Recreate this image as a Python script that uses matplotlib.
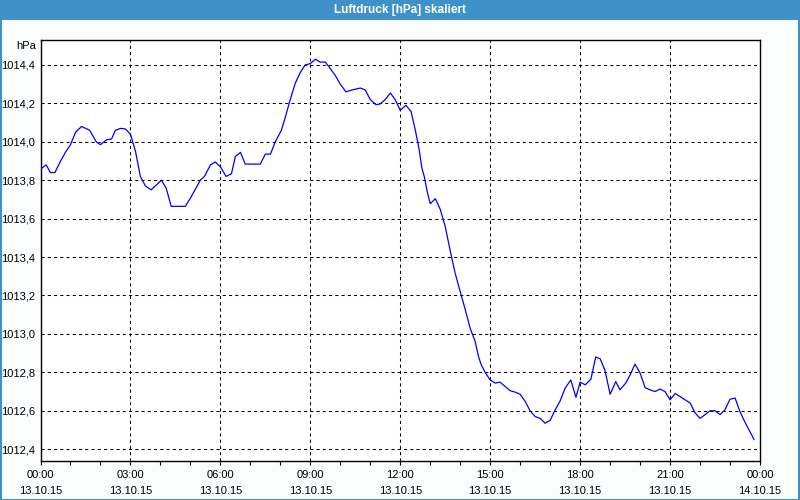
import matplotlib.pyplot as plt
from matplotlib.patches import Rectangle
from matplotlib.ticker import MultipleLocator, FixedLocator

# Luftdruck 13.10.15, Stunden seit Mitternacht
hours = [0.02, 0.19, 0.33, 0.48, 0.67, 0.83, 1.0, 1.17, 1.37, 1.64, 1.86, 2.0, 2.2, 2.37,
         2.5, 2.67, 2.83, 3.0, 3.17, 3.33, 3.5, 3.69, 3.87, 4.03, 4.19, 4.36, 4.83, 5.0,
         5.17, 5.33, 5.47, 5.67, 5.83, 6.0, 6.19, 6.37, 6.5, 6.67, 6.83, 7.33, 7.5, 7.67,
         7.83, 8.03, 8.17, 8.33, 8.5, 8.67, 8.83, 9.0, 9.17, 9.33, 9.5, 9.67, 9.83, 10.0,
         10.19, 10.39, 10.67, 10.83, 11.0, 11.19, 11.33, 11.5, 11.67, 11.83, 12.0, 12.19,
         12.36, 12.5, 12.63, 12.72, 12.8, 12.91, 13.0, 13.17, 13.33, 13.5, 13.67, 13.83,
         14.0, 14.17, 14.33, 14.5, 14.61, 14.7, 14.83, 15.0, 15.17, 15.33, 15.5, 15.67,
         15.83, 16.0, 16.17, 16.33, 16.5, 16.67, 16.83, 17.0, 17.17, 17.33, 17.5, 17.69,
         17.86, 18.0, 18.17, 18.36, 18.52, 18.67, 18.83, 19.0, 19.19, 19.33, 19.52, 19.67,
         19.83, 20.0, 20.17, 20.33, 20.5, 20.67, 20.83, 21.0, 21.17, 21.33, 21.5, 21.67,
         21.83, 22.0, 22.17, 22.33, 22.5, 22.67, 22.83, 23.0, 23.17, 23.33, 23.5, 23.67, 23.8]
pressure = [1013.86, 1013.88, 1013.84, 1013.84, 1013.90, 1013.945, 1013.985, 1014.05, 1014.08,
            1014.06, 1014.00, 1013.985, 1014.01, 1014.015, 1014.06, 1014.07, 1014.067, 1014.04,
            1013.95, 1013.82, 1013.77, 1013.75, 1013.776, 1013.80, 1013.76, 1013.664, 1013.664,
            1013.707, 1013.754, 1013.80, 1013.82, 1013.88, 1013.895, 1013.87, 1013.82, 1013.834,
            1013.924, 1013.945, 1013.884, 1013.884, 1013.936, 1013.936, 1014.0, 1014.058, 1014.13,
            1014.22, 1014.306, 1014.363, 1014.40, 1014.407, 1014.43, 1014.415, 1014.415, 1014.38,
            1014.346, 1014.30, 1014.26, 1014.27, 1014.28, 1014.27, 1014.22, 1014.193, 1014.197,
            1014.22, 1014.254, 1014.22, 1014.164, 1014.19, 1014.158, 1014.063, 1013.96, 1013.864,
            1013.82, 1013.733, 1013.678, 1013.704, 1013.65, 1013.56, 1013.43, 1013.317, 1013.22,
            1013.126, 1013.03, 1012.96, 1012.882, 1012.84, 1012.80, 1012.76, 1012.744, 1012.749,
            1012.726, 1012.704, 1012.697, 1012.686, 1012.648, 1012.60, 1012.57, 1012.56, 1012.535,
            1012.55, 1012.605, 1012.65, 1012.718, 1012.76, 1012.67, 1012.749, 1012.735, 1012.765,
            1012.88, 1012.87, 1012.81, 1012.686, 1012.752, 1012.709, 1012.744, 1012.787, 1012.843,
            1012.796, 1012.72, 1012.709, 1012.70, 1012.713, 1012.70, 1012.657, 1012.69, 1012.674,
            1012.657, 1012.64, 1012.59, 1012.56, 1012.58, 1012.60, 1012.60, 1012.58, 1012.605,
            1012.66, 1012.666, 1012.596, 1012.54, 1012.49, 1012.45]

tick_hours = [0, 3, 6, 9, 12, 15, 18, 21, 24]
tick_labels = ["00:00\n13.10.15", "03:00\n13.10.15", "06:00\n13.10.15", "09:00\n13.10.15",
               "12:00\n13.10.15", "15:00\n13.10.15", "18:00\n13.10.15", "21:00\n13.10.15",
               "00:00\n14.10.15"]
y_ticks = [1012.4, 1012.6, 1012.8, 1013.0, 1013.2, 1013.4, 1013.6, 1013.8, 1014.0, 1014.2, 1014.4]

plt.rcParams['font.family'] = ['Liberation Sans', 'DejaVu Sans']
frame_blue = '#3e92c9'

fig = plt.figure(figsize=(8, 5), dpi=100)
fig.set_facecolor('#fbfdfc')

# Titelleiste und Rahmen
fig.patches.append(Rectangle((0, 480 / 500), 1, 20 / 500, transform=fig.transFigure,
                             facecolor=frame_blue, edgecolor='none', zorder=0))
fig.patches.append(Rectangle((0.5 / 800, 0.5 / 500), 798.5 / 800, 499 / 500, transform=fig.transFigure,
                             facecolor='none', edgecolor=frame_blue, linewidth=1.5, zorder=1))
fig.text(0.5, 490 / 500, "Luftdruck [hPa] skaliert", color='white', fontweight='bold',
         fontsize=8.5, ha='center', va='center')

ax = fig.add_axes([40.5 / 800, 39.3 / 500, 719.5 / 800, 420.7 / 500])
ax.set_facecolor('white')
ax.plot(hours, pressure, color='#0000ff', linewidth=0.9, zorder=3)

ax.set_xlim(0, 24)
ax.set_ylim(1012.34, 1014.53)
ax.xaxis.set_major_locator(FixedLocator(tick_hours))
ax.xaxis.set_minor_locator(MultipleLocator(1))
ax.set_xticklabels(tick_labels, fontsize=8, linespacing=1.75)
ax.set_yticks(y_ticks)
ax.set_yticklabels([f"{v:.1f}".replace('.', ',') for v in y_ticks], fontsize=8)

ax.tick_params(axis='x', which='both', direction='out', length=3, width=0.8, pad=4)
ax.tick_params(axis='y', length=0, pad=4)
ax.grid(True, which='major', color='black', linestyle=(0, (3, 3)), linewidth=0.75, zorder=1)
for side in ['top', 'right', 'bottom', 'left']:
    ax.spines[side].set_linewidth(1.0)
    ax.spines[side].set_color('black')

fig.text(36 / 800, (500 - 46) / 500, "hPa", fontsize=8, ha='right', va='center')

fig.savefig('out.png', dpi=100, facecolor=fig.get_facecolor())
